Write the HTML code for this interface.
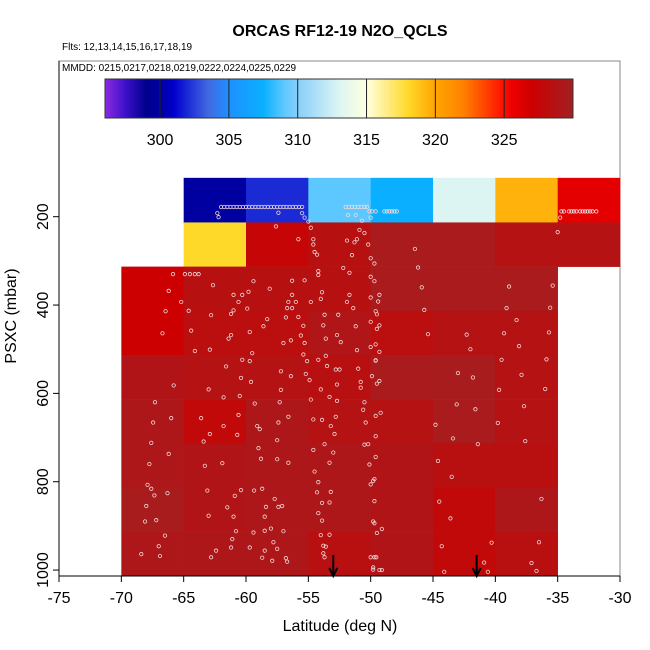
<!DOCTYPE html>
<html><head><meta charset="utf-8"><style>
body{margin:0;background:#fff;}
svg{display:block;font-family:"Liberation Sans",sans-serif;}
</style></head><body>
<svg id="chart" width="650" height="650" viewBox="0 0 650 650" xmlns="http://www.w3.org/2000/svg">
<defs><linearGradient id="cbar" x1="0" x2="1" y1="0" y2="0"></linearGradient></defs>
<text x="340" y="36" text-anchor="middle" font-size="16" font-weight="bold">ORCAS RF12-19 N2O_QCLS</text>
<text x="62" y="50" font-size="10">Flts: 12,13,14,15,16,17,18,19</text>
<rect x="59" y="61" width="561" height="515" fill="none" stroke="#888" stroke-width="1"/>
<text x="62" y="71" font-size="10">MMDD: 0215,0217,0218,0219,0222,0224,0225,0229</text>
<g id="cells"></g><g id="pts"></g><g id="cb"></g><g id="axes"></g>
<text x="340" y="631" text-anchor="middle" font-size="16">Latitude (deg N)</text>
<text transform="translate(16,316) rotate(-90)" text-anchor="middle" font-size="16">PSXC (mbar)</text>
</svg>
<script>
const lonEdges=[-70,-65,-60,-55,-50,-45,-40,-35,-30];
const pEdges=[112,213,313,413,513,613,713,813,913,1013];
const cellValues=[
[null,300,302,309,307.5,313,319.5,326],
[null,318,327.5,328.5,329.5,329.5,328.7,328.7],
[327,328.5,328.5,328.5,329.5,329.5,329.5,null],
[327,328.3,328.3,329,328.3,328.7,328.7,null],
[328.9,328.7,328.7,328.4,329.5,329.6,328.7,null],
[329.2,327.8,329.2,328.7,328.7,329.5,328.7,null],
[329.2,328.9,329.2,329.2,328.9,328.4,328.4,null],
[329.6,328.9,329.2,329.2,328.9,327.8,329.2,null],
[329.2,329.2,329.2,328.4,328.9,327.8,328.4,null]];
const ptLat=[-62,-61.75,-61.5,-61.25,-61,-60.75,-60.5,-60.25,-60,-59.75,-59.5,-59.25,-59,-58.75,-58.5,-58.25,-58,-57.75,-57.5,-57.25,-57,-56.75,-56.5,-56.25,-56,-55.75,-55.5,-52,-51.75,-51.5,-51.25,-51,-50.75,-50.5,-50.3,-50.1,-49.9,-49.6,-48.9,-48.7,-48.5,-48.3,-48.1,-47.9,-34.7,-34.5,-34.1,-33.9,-33.7,-33.5,-33.2,-33,-32.8,-32.6,-32.4,-32.2,-31.9,
-62.3,-62.2,-57.4,-55.5,-55.3,-55,-51.8,-51.2,-50.7,-50,-34.8,-35,
-65.85,-64.9,-64.5,-64.1,-63.8,-66.2,-65.2,-66.45,-66.7,-62.65,-61,-60.3,-60.6,-59.4,-58.1,-59.8,-64.6,-62.8,-61.2,-61,-59.9,-64.4,-61.2,-61.4,-64.1,-62.9,-59.7,-58.3,-58.6,-59.5,-56.3,-55.3,-56.3,-56.6,-56,-56.7,-56.3,-56.8,-55.8,-55.4,-55.6,-57,-56.4,-55.3,-55.4,-54.8,-53.9,-54,-54.2,-54.2,-53.7,-53.8,-53.6,-52.7,-52.4,-51.7,-51.9,-51.4,-52.6,-51.2,-51.1,-52.2,-51.7,-51.5,-51.9,-51.3,-51.1,-50.9,-50.5,-50.2,-54.6,-54.6,-54.5,-54.3,-54.8,-57.6,-55.8,-50,-49.7,-50,-49.7,-50,-49.3,-49.4,-49.6,-49.5,-50,-49.3,-49.5,-49.6,-50,-49.3,-49.6,
-46.45,-46.2,-45.9,-45.7,-45.4,-42.3,-42,-43,-41.8,-39.5,-39.3,-39.1,-38.9,-38.3,-38.1,-37.9,-35.4,-35.6,-35.7,-35.9,-36,-39.7,-37.7,-39.8,-37.6,-36.3,-36.5,-37.1,-36.7,-40.3,-40.9,-40.6,-44.1,-44.3,-43.6,-44.5,-43.5,-44.6,-43.4,-41.4,-44.8,-41.6,-43.1,
-67.3,-67.45,-66,-67.6,-66.2,-67.75,-67.9,-67.6,-67.35,-66.3,-68,-67.2,-68.1,-66.5,-67,-68.4,-66.9,-65.8,
-63.6,-61.8,-62.9,-60.6,-60.7,-63.4,-61.9,-63.3,-63.1,-60.9,-60.4,-59.35,-58.7,-61.5,-63,-61,-60.8,-61.1,-61.2,-62.4,-62.8,-59.7,-59.4,-58.5,-58,-58.5,-58.4,-57.7,-57.4,-57.1,-57,-57.8,-57.5,-58.5,-58.7,-57.9,-56.8,-56.7,-59,-58.8,-57.5,-56.6,-57.5,-58.9,-59.1,-57.4,-56.6,-57.3,-59.3,-61.6,-60.4,-63,-61.8,-60.5,-59.6,-60.3,-59.7,-57.2,-56.4,-57.2,
-55.2,-54.9,-55.1,-54.2,-53.6,-53.5,-54,-53.3,-52.7,-52.7,-52.8,-52.5,-54.8,-54.6,-53.9,-53.2,-52.8,-52.9,-53.7,-54.6,-53,-53.3,-54.5,-54.2,-54.3,-53.2,-53.9,-53.3,-54.2,-53.9,-54,-53.3,-53.8,-53.6,-53.8,-53.7,-51,-50.8,-50.8,-50.5,-50.6,-50.4,-50.5,-50.2,-50.1,-49.6,-49.6,-49.6,-49.2,-49.5,-49.3,-49.9,-49.6,-49.7,-49.8,-50,-49.7,-49.8,-49.7,-49.5,-49.1,-50,-49.7,-49.55,-49.8,-49.8,-49.3,-49.1];
const ptP=[178,178,178,178,178,178,178,178,178,178,178,178,178,178,178,178,178,178,178,178,178,178,178,178,178,178,178,178,178,178,178,178,178,178,178,188,188,188,188,188,188,188,188,188,188,188,188,188,188,188,188,188,188,188,188,188,188,
192,201,191,192,202,211,196,196,209,202,202,235,
330,330,330,330,330,368,393,414,464,355,377,377,393,346,363,370,413,423,420,412,408,458,468,476,504,501,461,432,448,509,345,344,377,393,393,407,407,428,427,447,469,486,480,486,512,393,371,386,323,332,422,446,476,468,484,377,393,407,422,448,502,316,327,287,254,258,251,230,237,263,251,263,280,286,225,222,251,294,306,336,346,383,377,392,414,421,438,446,454,489,495,506,525,
273,315,360,411,466,467,500,554,564,524,464,407,358,434,493,558,356,406,462,523,590,592,629,667,708,839,937,984,1002,938,983,1004,1004,946,883,845,789,753,702,715,671,636,625,
620,666,656,712,737,760,807,816,831,826,855,887,890,922,946,964,968,582,
656,674,692,649,694,709,758,764,820,832,819,820,816,858,877,879,912,930,949,956,971,949,915,911,906,879,857,839,857,855,912,937,952,956,972,979,973,981,724,748,749,757,706,681,674,666,653,620,623,539,565,591,609,606,574,524,527,550,561,592,
556,570,527,524,515,538,591,608,617,580,546,546,614,659,660,674,653,692,715,728,734,757,777,801,824,823,848,847,871,888,921,920,945,947,962,971,544,574,587,620,637,666,716,715,761,744,697,651,644,578,572,561,526,794,798,806,844,890,894,916,907,971,971,971,994,999,1000,1000];
const arrowLat=[-53.0,-41.5];
const xTicks=[-75,-70,-65,-60,-55,-50,-45,-40,-35,-30];
const yTicks=[200,400,600,800,1000];
const cbTicks=[300,305,310,315,320,325];
const cbRange=[296,330];

const NS='http://www.w3.org/2000/svg';
const X=lon=>59+(lon+75)*12.467;
const Y=p=>216.7+(p-200)*0.4417;
const CB=v=>105+(v-cbRange[0])*(468/(cbRange[1]-cbRange[0]));
const stops=[[296,[138,43,226]],[297.5,[60,16,200]],[299,[0,0,139]],[300,[0,0,160]],[301,[0,0,205]],[303.5,[65,105,225]],[305,[30,144,255]],[307.5,[10,176,255]],[309,[92,200,255]],[310,[135,206,250]],[313,[220,245,243]],[315,[255,255,224]],[318,[255,217,42]],[320,[255,165,0]],[322,[255,130,0]],[324.5,[255,32,0]],[325.5,[240,0,0]],[327,[204,0,0]],[330,[162,32,34]]];
function col(v){
  if(v<=stops[0][0])return 'rgb('+stops[0][1]+')';
  for(let i=1;i<stops.length;i++){if(v<=stops[i][0]){const a=stops[i-1],b=stops[i],t=(v-a[0])/(b[0]-a[0]);
    return 'rgb('+a[1].map((c,k)=>Math.round(c+(b[1][k]-c)*t)).join(',')+')';}}
  return 'rgb('+stops[stops.length-1][1]+')';
}
function mk(tag,attrs,parent,txt){const e=document.createElementNS(NS,tag);for(const k in attrs)e.setAttribute(k,attrs[k]);if(txt!==undefined)e.textContent=txt;parent.appendChild(e);return e;}

const cells=document.getElementById('cells');
cellValues.forEach((row,r)=>row.forEach((v,c)=>{
  if(v===null)return;
  const e=mk('rect',{x:X(lonEdges[c]),y:Y(pEdges[r]),width:X(lonEdges[c+1])-X(lonEdges[c])+0.3,height:Y(pEdges[r+1])-Y(pEdges[r])+0.3,fill:col(v)},cells);
  
  
}));
const pts=document.getElementById('pts');
ptLat.forEach((la,i)=>{
  const e=mk('circle',{cx:X(la),cy:Y(ptP[i]),r:1.7,fill:'none',stroke:'#f0d8d8','stroke-width':0.8},pts);
  
  
});
arrowLat.forEach(la=>{
  const g=mk('g',{},pts);
  
  
  mk('line',{x1:X(la),x2:X(la),y1:555,y2:575,stroke:'#000','stroke-width':2},g);
  mk('path',{d:`M${X(la)-4},568 L${X(la)},576 L${X(la)+4},568`,fill:'none',stroke:'#000','stroke-width':2},g);
});
// colorbar
const grad=document.getElementById('cbar');
for(let v=cbRange[0];v<=cbRange[1];v+=0.5){mk('stop',{offset:(v-cbRange[0])/(cbRange[1]-cbRange[0]),'stop-color':col(v)},grad);}
const cb=document.getElementById('cb');
const bar=mk('rect',{x:105,y:79,width:468,height:39,fill:'url(#cbar)',stroke:'#333','stroke-width':1},cb);


cbTicks.forEach(v=>{
  mk('line',{x1:CB(v),x2:CB(v),y1:79,y2:118,stroke:'#222','stroke-width':1},cb);
  const t=mk('text',{x:CB(v),y:145,'text-anchor':'middle','font-size':16},cb,String(v));
  
  
});
// axes
const ax=document.getElementById('axes');
mk('line',{x1:59,x2:59,y1:61,y2:576,stroke:'#000'},ax);
mk('line',{x1:59,x2:620,y1:576,y2:576,stroke:'#000'},ax);
xTicks.forEach(v=>{
  mk('line',{x1:X(v),x2:X(v),y1:576,y2:582,stroke:'#000'},ax);
  const t=mk('text',{x:X(v),y:603,'text-anchor':'middle','font-size':16},ax,String(v));
  
  
});
yTicks.forEach(v=>{
  mk('line',{x1:53,x2:59,y1:Y(v),y2:Y(v),stroke:'#000'},ax);
  const t=mk('text',{transform:`translate(48,${Y(v)}) rotate(-90)`,'text-anchor':'middle','font-size':16},ax,String(v));
  
  
});
</script>
</body></html>
